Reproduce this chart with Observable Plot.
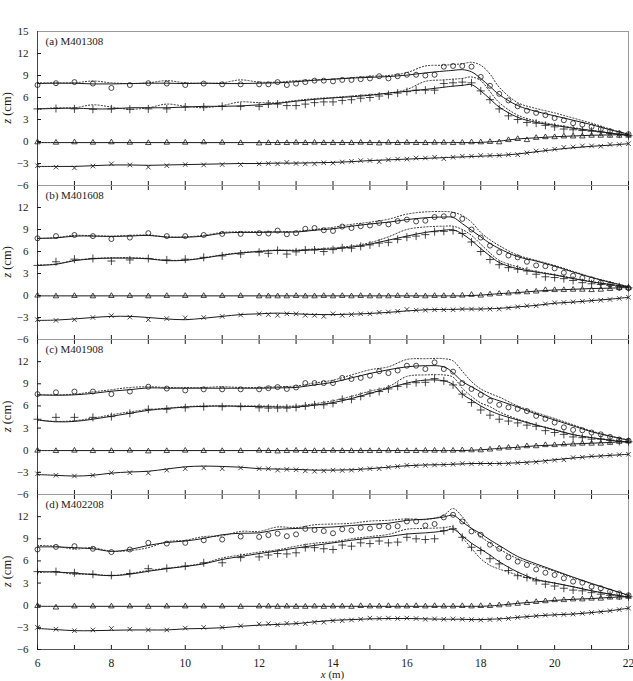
<!DOCTYPE html>
<html><head><meta charset="utf-8">
<script src="https://cdn.jsdelivr.net/npm/d3@7"></script>
<script src="https://cdn.jsdelivr.net/npm/@observablehq/plot@0.6"></script>
<style>
html,body{margin:0;padding:0;background:#fff;}
#chart{width:633px;height:681px;overflow:hidden;background:#fff;position:relative;}
#chart svg{display:block;}
</style></head>
<body><div id="chart"></div>
<script>
// ---- tick labels ----
const yTicksTop = [-6,-3,0,3,6,9,12,15];
const yTicks = [-6,-3,0,3,6,9,12];
const xLabelTicks = [6,8,10,12,14,16,18,20,22];
const xMinorTicks = [6,7,8,9,10,11,12,13,14,15,16,17,18,19,20,21,22];
const panelLabels = ["(a) M401308","(b) M401608","(c) M401908","(d) M402208"];

// ---- measurement x positions (m) ----
const xObs = [6,6.5,7,7.5,8,8.5,9,9.5,10,10.5,11,11.5,12,
  12.25,12.5,12.75,13, 13.25,13.5,13.75,14, 14.25,14.5,14.75,15, 15.25,15.5,15.75,16,
  16.25,16.5,16.75,17, 17.25,17.5,17.75,18, 18.25,18.5,18.75,19, 19.25,19.5,19.75,20,
  20.25,20.5,20.75,21, 21.25,21.5,21.75,22];
// ---- model x positions (m) ----
const xLine = [6,6.5,7,7.5,8,8.5,9,9.5,10,10.5,11,11.5,12,12.5,13,13.5,14,14.5,15,15.5,16,16.5,17,
  17.25,17.5,17.75,18,18.25,18.5, 19,19.5,20,20.5,21,21.5,22];

// ================= (a) =================
const circA = [7.7,7.95,8.1,7.9,7.3,7.7,7.95,7.9,7.7,7.9,7.8,7.8,7.8,
  7.8,8.1,7.7,7.9, 8.1,8.3,8.3,8.2, 8.4,8.4,8.5,8.6, 8.9,8.6,8.9,9.1, 9.1,9.0,9.1,10.2,
  10.3,10.3,10.2,8.8, 7.6,6.5,5.6,4.8, 4.2,3.9,3.6,3.2, 2.9,2.5,2.3,2.0, 1.7,1.4,1.1,1.0];
const plusA = [4.45,4.5,4.45,4.4,4.45,4.4,4.45,4.45,4.7,4.7,4.8,4.8,4.8,
  5.1,5.1,4.9,4.9, 5.1,5.3,5.4,5.4, 5.6,5.7,5.9,6.0, 6.2,6.4,6.6,6.8, 7.0,7.0,7.0,7.9,
  8.0,8.1,8.0,6.9, 5.7,4.45,3.5,3.0, 2.6,2.5,2.2,2.0, 1.7,1.6,1.5,1.4, 1.3,1.1,1.0,0.8];
const triA = [-0.1,-0.15,-0.1,-0.15,-0.1,-0.15,-0.2,-0.15,-0.15,-0.1,-0.15,-0.2,-0.25,
  -0.2,-0.2,-0.2,-0.15, -0.2,-0.15,-0.2,-0.2, -0.2,-0.2,-0.15,-0.2, -0.25,-0.15,-0.2,-0.15,
  -0.2,-0.2,-0.15,-0.15, -0.2,-0.15,-0.1,-0.1, -0.05,-0.1,0.2,0.35, 0.2,0.5,0.6,0.6,
  0.7,0.7,0.7,0.8, 0.8,0.8,0.8,0.8];
const crossA = [-3.3,-3.5,-3.6,-3.35,-3.05,-3.2,-3.5,-3.3,-3.15,-3.2,-3.15,-3.15,-3.05,
  -3.0,-3.05,-2.85,-3.0, -3.05,-3.05,-2.9,-2.95, -2.8,-2.7,-2.6,-2.6, -2.75,-2.5,-2.4,-2.4,
  -2.25,-2.25,-2.15,-2.35, -2.15,-2.0,-2.0,-1.9, -1.9,-1.9,-1.8,-1.8, -1.55,-1.3,-1.2,-1.05,
  -0.8,-0.75,-0.6,-0.6, -0.65,-0.4,-0.4,-0.3];
const circA_m = [7.9,7.95,7.95,7.85,7.85,7.9,7.95,7.95,7.9,7.95,7.9,7.9,7.95,8.0,8.15,8.35,8.5,8.65,8.75,8.85,9.05,9.35,9.6,
  9.7,9.8,9.5,8.6,7.5,6.4, 4.9,4.1,3.5,2.9,2.3,1.6,1.0];
const circA_d = [8.0,8.0,8.0,8.25,8.0,7.9,8.0,8.3,8.0,7.95,8.0,8.4,8.1,8.1,8.3,8.4,8.5,8.7,8.9,9.0,9.4,10.3,10.4,
  10.5,10.6,10.8,10.4,9.2,7.4, 5.3,4.5,3.9,3.2,2.5,1.7,1.0];
const plusA_m = [4.45,4.5,4.55,4.45,4.45,4.6,4.6,4.6,4.7,4.8,4.8,4.85,5.0,5.2,5.5,5.75,5.95,6.1,6.3,6.6,6.85,7.1,7.4,
  7.55,7.65,7.75,6.9,5.8,4.7, 3.3,2.6,2.2,1.8,1.5,1.15,0.8];
const plusA_d = [4.4,4.6,4.6,5.0,4.7,4.4,4.6,5.1,4.8,4.6,4.9,5.4,5.3,5.3,5.6,5.85,6.0,6.2,6.4,6.6,7.1,8.2,8.4,
  8.5,8.6,8.8,8.3,6.8,5.3, 3.6,2.8,2.3,1.9,1.5,1.15,0.8];
const triA_m = [-0.15,-0.15,-0.15,-0.15,-0.15,-0.15,-0.15,-0.15,-0.15,-0.15,-0.15,-0.15,-0.15,-0.15,-0.15,-0.15,-0.15,-0.15,-0.15,-0.15,-0.15,-0.15,-0.15,
  -0.15,-0.15,-0.15,-0.12,-0.05,0.05, 0.35,0.5,0.65,0.75,0.85,0.9,0.95];
const crossA_m = [-3.4,-3.4,-3.4,-3.3,-3.2,-3.2,-3.25,-3.2,-3.15,-3.1,-3.05,-3.0,-3.0,-2.95,-2.95,-2.9,-2.85,-2.75,-2.6,-2.5,-2.4,-2.3,-2.2,
  -2.15,-2.1,-2.05,-2.0,-1.95,-1.9, -1.7,-1.4,-1.1,-0.85,-0.65,-0.5,-0.3];

// ================= (b) =================
const circB = [7.8,8.1,8.25,8.1,7.7,7.9,8.5,8.1,8.1,8.25,8.4,8.4,8.5,
  8.45,8.85,8.35,8.5, 9.1,9.2,8.9,8.8, 9.4,9.2,9.45,9.55, 9.9,9.7,10.15,10.35,
  10.1,10.2,10.7,10.8, 11.0,10.45,9.0,7.9, 6.8,5.9,5.45,5.2, 4.6,4.1,4.0,3.7,
  3.1,2.7,2.4,2.2, 1.75,1.5,1.05,1.0];
const plusB = [4.1,4.6,4.95,5.05,4.7,4.85,5.05,4.85,4.95,5.2,5.4,5.65,5.9,
  5.75,6.15,5.65,5.95, 6.2,6.2,6.0,6.25, 6.5,6.45,6.7,6.9, 7.15,7.25,7.65,7.95,
  8.1,8.3,8.7,8.75, 8.85,8.45,7.3,6.0, 4.9,4.2,3.8,3.6, 3.35,2.9,2.55,2.45,
  2.3,2.05,1.75,1.6, 1.5,1.4,1.2,1.05];
const triB = [0.0,-0.1,-0.05,-0.1,-0.05,-0.05,-0.1,-0.05,-0.05,-0.05,-0.05,-0.05,-0.1,
  -0.1,-0.1,-0.1,-0.05, -0.1,-0.1,-0.05,-0.1, -0.05,-0.1,-0.05,-0.1, -0.1,-0.1,-0.05,-0.05,
  -0.05,-0.1,-0.05,-0.05, -0.05,0.0,0.1,0.0, 0.15,0.25,0.3,0.45, 0.45,0.55,0.75,0.75,
  0.75,0.8,0.8,0.75, 0.8,0.9,1.05,1.05];
const crossB = [-3.3,-3.4,-3.3,-3.0,-2.75,-2.95,-3.3,-3.15,-3.05,-3.0,-2.85,-2.65,-2.5,
  -2.6,-2.7,-2.5,-2.5, -2.7,-2.7,-2.85,-2.5, -2.7,-2.6,-2.5,-2.5, -2.3,-2.25,-2.15,-1.9,
  -2.0,-2.0,-1.95,-1.95, -1.95,-1.85,-1.85,-1.85, -1.85,-1.85,-1.7,-1.55, -1.4,-1.4,-1.15,-1.0,
  -0.95,-0.87,-0.8,-0.7, -0.65,-0.55,-0.4,-0.25];
const circB_m = [7.8,7.85,8.1,8.1,8.05,8.1,8.2,7.95,7.95,8.1,8.5,8.6,8.6,8.65,8.65,8.9,9.1,9.45,9.75,10.0,10.35,10.6,10.7,
  10.65,9.8,8.9,8.0,7.1,6.4, 5.3,4.7,4.0,3.2,2.45,1.8,1.2];
const circB_d = [7.75,7.9,8.2,8.15,8.1,8.2,8.25,8.0,8.0,8.2,8.6,8.7,8.7,8.7,8.75,9.0,9.3,9.7,10.0,10.4,11.1,11.4,11.45,
  11.35,10.9,10.0,8.6,7.6,6.8, 5.5,4.8,4.1,3.3,2.5,1.85,1.2];
const plusB_m = [4.1,4.25,4.75,5.0,5.1,5.1,5.0,4.75,4.8,5.1,5.5,5.8,6.0,6.15,6.1,6.25,6.35,6.6,7.0,7.55,8.1,8.6,8.9,
  8.95,8.4,7.5,6.4,5.4,4.5, 3.65,3.2,2.8,2.3,1.85,1.5,1.15];
const plusB_d = [4.15,4.3,4.8,5.05,5.15,5.15,5.05,4.8,4.85,5.15,5.55,5.85,6.05,6.2,6.2,6.35,6.5,6.75,7.2,8.0,9.0,9.35,9.45,
  9.45,9.0,8.2,7.0,5.8,4.8, 3.9,3.3,2.85,2.35,1.9,1.5,1.15];
const triB_m = [-0.05,-0.05,-0.05,-0.05,-0.05,-0.05,-0.05,-0.05,-0.05,-0.05,-0.05,-0.05,-0.05,-0.05,-0.05,-0.05,-0.05,-0.05,-0.05,-0.05,-0.05,-0.05,-0.05,
  -0.05,-0.05,0.0,0.05,0.15,0.25, 0.4,0.6,0.75,0.85,0.95,1.0,1.1];
const crossB_m = [-3.4,-3.35,-3.2,-3.0,-2.85,-2.85,-3.0,-3.2,-3.3,-3.1,-2.85,-2.6,-2.5,-2.4,-2.5,-2.6,-2.6,-2.55,-2.45,-2.3,-2.1,-1.95,-1.9,
  -1.9,-1.85,-1.85,-1.85,-1.8,-1.75, -1.55,-1.35,-1.05,-0.9,-0.7,-0.5,-0.25];

// ================= (c) =================
const circC = [7.6,7.85,7.95,7.95,7.6,7.95,8.6,8.35,8.1,8.25,8.25,8.25,8.25,
  8.4,8.55,8.3,8.5, 9.1,9.1,9.1,9.1, 9.8,9.65,9.8,10.1, 10.7,10.45,10.8,11.45,
  11.45,11.0,11.9,11.0, 10.65,9.1,8.3,7.5, 6.7,6.15,5.8,5.6, 5.3,4.65,4.25,3.75,
  3.1,2.75,2.7,2.4, 2.15,1.8,1.45,1.3];
const plusC = [4.2,4.45,4.45,4.45,4.55,5.0,5.55,5.55,5.75,5.9,5.9,5.9,5.75,
  5.7,5.7,5.7,5.8, 6.0,6.15,6.15,6.35, 6.9,6.9,7.3,7.75, 7.95,8.3,8.65,8.95,
  9.15,9.2,9.7,9.4, 8.85,7.6,6.45,5.45, 4.75,4.2,3.95,3.7, 3.4,3.25,2.65,2.4,
  2.15,1.8,1.7,1.5, 1.5,1.35,1.2,1.15];
const triC = [-0.05,-0.1,-0.05,-0.1,-0.1,-0.05,-0.15,-0.1,-0.05,-0.1,-0.1,-0.1,-0.05,
  -0.1,-0.15,-0.1,-0.05, -0.1,-0.1,-0.1,-0.05, -0.1,-0.1,-0.1,-0.1, -0.1,-0.05,-0.1,-0.1,
  -0.1,-0.05,-0.05,-0.05, -0.05,0.0,0.0,0.0, 0.1,0.25,0.35,0.35, 0.55,0.55,0.7,0.7,
  0.8,0.8,0.9,0.9, 0.9,1.0,1.15,1.2];
const crossC = [-3.2,-3.4,-3.5,-3.4,-3.05,-3.05,-3.1,-2.7,-2.5,-2.4,-2.5,-2.4,-2.5,
  -2.5,-2.7,-2.6,-2.65, -2.8,-2.85,-2.8,-2.7, -2.75,-2.7,-2.6,-2.5, -2.5,-2.3,-2.2,-2.05,
  -2.1,-2.05,-2.0,-1.95, -1.9,-1.8,-1.85,-1.8, -1.85,-1.8,-1.8,-1.7, -1.7,-1.6,-1.5,-1.35,
  -1.3,-1.0,-0.95,-0.8, -0.8,-0.7,-0.6,-0.55];
const circC_m = [7.5,7.45,7.5,7.7,8.0,8.2,8.45,8.4,8.4,8.4,8.4,8.4,8.4,8.45,8.5,8.85,9.2,9.8,10.4,10.9,11.3,11.45,11.3,
  10.5,9.3,8.6,7.9,7.15,6.7, 5.85,4.9,4.1,3.3,2.5,1.9,1.35];
const circC_d = [7.5,7.5,7.6,7.9,8.2,8.5,8.6,8.5,8.5,8.5,8.6,8.5,8.5,8.6,8.7,9.1,9.5,10.2,10.9,11.3,12.3,12.4,12.4,
  12.1,10.7,9.3,8.3,7.7,7.2, 6.0,5.1,4.3,3.45,2.6,1.95,1.4];
const plusC_m = [4.1,3.85,3.9,4.2,4.6,5.0,5.4,5.65,5.85,5.95,6.0,5.95,5.9,5.85,5.85,6.1,6.45,7.0,7.7,8.4,9.1,9.5,9.4,
  8.9,7.6,6.8,6.0,5.35,4.85, 4.1,3.4,2.75,2.1,1.7,1.35,1.05];
const plusC_d = [4.1,3.9,4.0,4.35,4.8,5.2,5.5,5.7,5.9,6.0,6.0,6.0,6.0,5.95,6.0,6.3,6.7,7.3,8.0,8.6,10.0,10.2,10.2,
  9.9,8.4,7.3,6.4,5.9,5.2, 4.2,3.45,2.8,2.15,1.7,1.4,1.1];
const triC_m = [-0.05,-0.05,-0.05,-0.05,-0.05,-0.05,-0.05,-0.05,-0.05,-0.05,-0.05,-0.05,-0.05,-0.05,-0.05,-0.05,-0.05,-0.05,-0.05,-0.05,-0.05,-0.05,-0.05,
  -0.05,-0.05,0.0,0.05,0.15,0.25, 0.4,0.6,0.7,0.85,0.95,1.05,1.2];
const crossC_m = [-3.3,-3.4,-3.5,-3.4,-3.1,-2.95,-2.85,-2.55,-2.25,-2.15,-2.2,-2.3,-2.5,-2.55,-2.6,-2.7,-2.7,-2.65,-2.5,-2.3,-2.1,-2.0,-1.95,
  -1.9,-1.85,-1.8,-1.8,-1.8,-1.8, -1.7,-1.55,-1.3,-1.05,-0.85,-0.7,-0.55];

// ================= (d) =================
const circD = [7.55,7.9,8.0,7.65,7.2,7.55,8.45,8.35,8.45,8.8,8.9,9.3,9.25,
  9.5,9.7,9.35,9.6, 10.35,10.2,10.05,9.75, 10.3,10.15,10.5,10.4, 10.7,10.6,10.7,11.35,
  11.35,10.8,11.0,11.9, 12.25,11.35,10.0,9.55, 8.2,7.65,6.5,5.9, 5.45,4.85,4.4,4.1,
  3.65,3.2,3.05,2.5, 2.3,1.85,1.6,1.35];
const plusD = [4.55,4.55,4.4,4.2,4.05,4.3,4.95,5.0,5.3,5.75,5.75,6.45,6.55,
  6.8,7.0,6.95,7.1, 7.8,7.8,7.65,7.55, 8.15,8.0,8.45,8.35, 8.7,8.45,8.55,9.2,
  9.0,8.9,9.0,10.1, 10.35,9.2,7.85,7.4, 6.3,5.6,4.7,4.0, 3.75,3.3,2.85,2.6,
  2.3,2.05,1.95,1.7, 1.5,1.35,1.25,1.15];
const triD = [-0.1,-0.3,-0.15,-0.15,-0.15,-0.15,-0.2,-0.15,-0.15,-0.15,-0.15,-0.2,-0.15,
  -0.15,-0.2,-0.15,-0.2, -0.2,-0.15,-0.2,-0.15, -0.15,-0.2,-0.1,-0.15, -0.15,-0.1,-0.15,-0.15,
  -0.1,-0.15,-0.1,-0.15, -0.15,-0.1,-0.15,-0.1, -0.1,0.0,0.1,0.2, 0.3,0.45,0.55,0.7,
  0.7,0.8,0.8,0.9, 0.9,1.05,1.05,1.15];
const crossD = [-3.0,-3.25,-3.45,-3.35,-3.15,-3.25,-3.35,-3.35,-3.1,-3.0,-3.0,-2.8,-2.55,
  -2.5,-2.65,-2.45,-2.45, -2.5,-2.3,-2.3,-2.1, -2.1,-2.0,-1.9,-1.75, -1.8,-1.75,-1.8,-1.75,
  -1.8,-1.9,-1.85,-1.9, -1.85,-1.9,-1.95,-2.0, -1.95,-1.9,-1.8,-1.65, -1.55,-1.45,-1.35,-1.3,
  -1.25,-1.2,-1.1,-1.0, -0.9,-0.75,-0.6,-0.4];
const circD_m = [7.9,7.9,7.8,7.65,7.3,7.55,8.1,8.5,8.7,9.05,9.55,9.75,9.8,10.25,10.4,10.5,10.6,10.8,10.95,11.1,11.5,11.65,11.95,
  12.2,11.3,10.4,9.7,8.85,8.1, 6.6,5.6,4.7,3.8,2.95,2.15,1.35];
const circD_d = [8.1,8.0,7.6,7.8,7.3,7.4,7.8,8.6,8.8,9.3,9.4,10.0,10.0,10.6,10.5,10.9,11.0,11.1,11.4,11.5,11.7,11.6,12.2,
  13.1,12.0,10.4,9.3,8.4,7.6, 6.3,5.4,4.6,3.7,2.9,2.1,1.3];
const plusD_m = [4.55,4.5,4.35,4.15,4.0,4.2,4.6,4.95,5.25,5.6,6.2,6.6,7.0,7.35,7.75,8.1,8.45,8.8,9.1,9.3,9.65,9.8,10.05,
  10.3,9.4,8.4,7.6,6.8,5.9, 4.5,3.5,3.0,2.5,1.95,1.5,1.1];
const plusD_d = [4.4,4.5,4.2,4.2,4.0,4.3,4.7,5.0,5.3,5.7,6.4,6.8,7.2,7.5,8.0,8.4,8.6,9.0,9.3,9.6,10.3,10.4,10.5,
  10.6,9.2,7.7,6.3,5.4,4.9, 4.1,3.4,3.0,2.5,1.95,1.5,1.1];
const triD_m = [-0.15,-0.15,-0.15,-0.15,-0.15,-0.15,-0.15,-0.15,-0.15,-0.15,-0.15,-0.15,-0.15,-0.15,-0.15,-0.15,-0.15,-0.15,-0.15,-0.15,-0.15,-0.15,-0.15,
  -0.15,-0.15,-0.15,-0.15,-0.1,0.0, 0.25,0.45,0.65,0.8,0.9,1.05,1.15];
const crossD_m = [-3.15,-3.3,-3.45,-3.45,-3.4,-3.35,-3.35,-3.35,-3.2,-3.15,-3.05,-2.85,-2.7,-2.6,-2.5,-2.25,-2.05,-1.95,-1.85,-1.8,-1.8,-1.85,-1.9,
  -1.9,-1.9,-1.95,-1.95,-1.9,-1.85, -1.65,-1.45,-1.3,-1.2,-1.0,-0.75,-0.4];

const panels = [
  {label: panelLabels[0], circ: circA, plus: plusA, tri: triA, cross: crossA, circM: circA_m, circD: circA_d, plusM: plusA_m, plusD: plusA_d, triM: triA_m, crossM: crossA_m},
  {label: panelLabels[1], circ: circB, plus: plusB, tri: triB, cross: crossB, circM: circB_m, circD: circB_d, plusM: plusB_m, plusD: plusB_d, triM: triB_m, crossM: crossB_m},
  {label: panelLabels[2], circ: circC, plus: plusC, tri: triC, cross: crossC, circM: circC_m, circD: circC_d, plusM: plusC_m, plusD: plusC_d, triM: triC_m, crossM: crossC_m},
  {label: panelLabels[3], circ: circD, plus: plusD, tri: triD, cross: crossD, circM: circD_m, circD: circD_d, plusM: plusD_m, plusD: plusD_d, triM: triD_m, crossM: crossD_m}
];

const FONT = "Liberation Serif, Times New Roman, serif";
const INK = "#1a1a1a";
const innerHeights = [154, 154, 155, 155];

const chart = document.getElementById("chart");

panels.forEach((p, idx) => {
  const first = idx === 0, last = idx === panels.length - 1;
  const mt = first ? 31 : 0, mb = last ? 32 : 0;
  const obs = xObs.map((x, i) => ({x, circ: p.circ[i], plus: p.plus[i], tri: p.tri[i], cross: p.cross[i]}));
  const mod = xLine.map((x, i) => ({x, circM: p.circM[i], circD: p.circD[i], plusM: p.plusM[i], plusD: p.plusD[i], triM: p.triM[i], crossM: p.crossM[i]}));
  const solid = {x: "x", curve: "catmull-rom", stroke: INK, strokeWidth: 1};
  const dotted = {x: "x", curve: "catmull-rom", stroke: "#333", strokeWidth: 1, strokeDasharray: "1.2,2"};
  const sym = {x: "x", fill: "none", stroke: INK, strokeWidth: 0.8};

  const marks = [
    Plot.frame({stroke: "#9a9a9a"}),
    Plot.ruleY([-6], {stroke: "#555"}),
    Plot.ruleX([6], {stroke: "#444"}),
    Plot.axisY({ticks: first ? yTicksTop : yTicks, tickSize: 0, tickPadding: 9, label: null, fontSize: 11}),
    Plot.axisY({ticks: yTicks, tickSize: -4, tickFormat: () => "", label: null}),
    Plot.axisX({ticks: xMinorTicks, anchor: "bottom", tickSize: -4, tickFormat: () => "", label: null}),
    first ? null : Plot.axisX({ticks: xMinorTicks, anchor: "top", tickSize: -4, tickFormat: () => "", label: null}),
    last ? Plot.axisX({ticks: xLabelTicks, anchor: "bottom", tickSize: 0, tickPadding: 9, label: null, fontSize: 11.5}) : null,
    Plot.line(mod, {...dotted, y: "circD"}),
    Plot.line(mod, {...dotted, y: "plusD"}),
    Plot.line(mod, {...solid, y: "circM"}),
    Plot.line(mod, {...solid, y: "plusM"}),
    Plot.line(mod, {...solid, y: "triM"}),
    Plot.line(mod, {...solid, y: "crossM"}),
    Plot.dot(obs, {...sym, y: "circ", symbol: "circle", r: 2.5}),
    Plot.dot(obs, {...sym, y: "plus", symbol: "plus", r: 2.7}),
    Plot.dot(obs, {...sym, y: "tri", symbol: "triangle2", r: 2.6}),
    Plot.dot(obs, {...sym, y: "cross", symbol: "times", r: 2.2}),
    Plot.text([p.label], {frameAnchor: "top-left", dx: 8, dy: 6, lineAnchor: "top", textAnchor: "start", fontSize: 11, fill: INK})
  ].filter(Boolean);

  const svg = Plot.plot({
    width: 633,
    height: mt + innerHeights[idx] + mb,
    marginLeft: 37, marginRight: 5, marginTop: mt, marginBottom: mb,
    x: {domain: [6, 22]},
    y: {domain: [-6, 15]},
    style: {fontFamily: FONT, color: INK, background: "transparent", overflow: "visible"},
    marks
  });

  const ys = svg.scale("y");
  const cy = (ys.apply(15) + ys.apply(-6)) / 2;
  const lab = d3.select(svg).append("text")
    .attr("transform", `translate(11,${cy}) rotate(-90)`)
    .attr("text-anchor", "middle")
    .attr("font-family", FONT).attr("font-size", 12.5).attr("fill", INK);
  lab.append("tspan").attr("font-style", "italic").text("z");
  lab.append("tspan").text(" (cm)");

  if (last) {
    const xs = svg.scale("x");
    const t = d3.select(svg).append("text")
      .attr("x", (xs.apply(6) + xs.apply(22)) / 2).attr("y", mt + innerHeights[idx] + 29)
      .attr("text-anchor", "middle")
      .attr("font-family", FONT).attr("font-size", 11).attr("fill", INK);
    t.append("tspan").attr("font-style", "italic").text("x");
    t.append("tspan").text(" (m)");
  }
  svg.style.overflow = "visible";
  chart.appendChild(svg);
});
</script>
</body></html>
